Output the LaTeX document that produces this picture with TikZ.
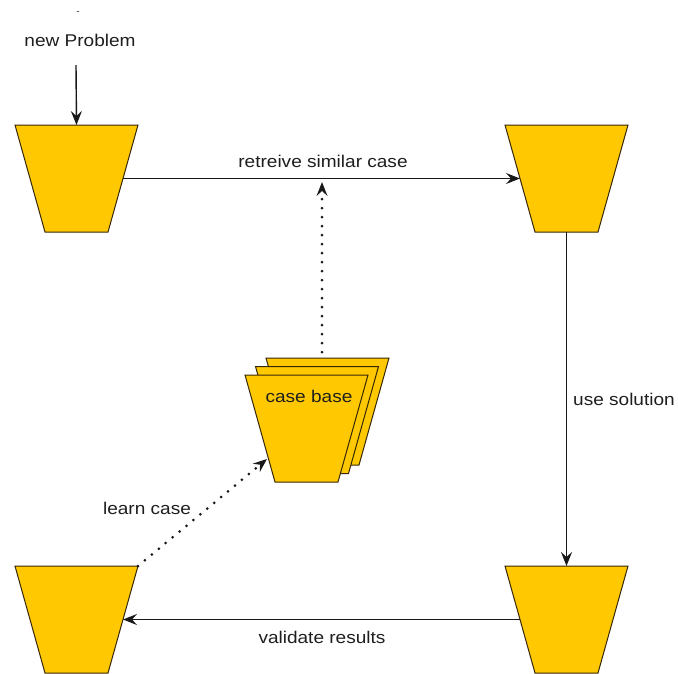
\documentclass[tikz,border=0pt]{standalone}
\usepackage{fontspec}
\setmainfont{Liberation Sans}[FakeStretch=1.12]
\usetikzlibrary{shapes.geometric,arrows.meta}
\definecolor{cbfill}{RGB}{255,200,0}
\definecolor{cbedge}{RGB}{55,40,5}
\definecolor{txt}{RGB}{30,30,30}
\begin{document}
\begin{tikzpicture}[x=1pt,y=-1pt,
  stage/.style={trapezium, trapezium angle=74.34, shape border rotate=180,
    inner xsep=31.5pt, inner ysep=53.5pt, minimum size=0pt,
    fill=cbfill, draw=cbedge, line width=1pt, outer sep=0pt},
  lbl/.style={text=txt, font=\fontsize{17}{20}\selectfont, inner sep=1pt},
  flow/.style={draw=black!90, line width=1.4pt,
    -{Stealth[length=14pt,width=11pt,inset=5pt]}},
  dotflow/.style={draw=black!90, line width=3pt, line cap=round,
    dash pattern=on 0pt off 9pt,
    -{Stealth[length=14pt,width=11pt,inset=5pt,line width=0pt]}}]
\useasboundingbox (0,0) rectangle (678,673);

% the four process stages
\node[stage] (TL) at (76.5,178.5) {};
\node[stage] (TR) at (566.5,178.5) {};
\node[stage] (BL) at (76.5,619.5) {};
\node[stage] (BR) at (566.5,619.5) {};

% stacked case base
\node[stage] (cb3) at (327.5,411.5) {};
\node[stage] (cb2) at (317,420) {};
\node[stage] (cb) at (306.5,428.5) {};
\node[lbl] (cbl) at (309,396) {case base};

% labels
\node[lbl, font=\fontsize{9}{10}\selectfont] (dash) at (78,13) {-};
\node[lbl] (np) at (80,40) {new Problem};
\node[lbl] (rsc) at (323,161) {retreive similar case};
\node[lbl] (us) at (624,399) {use solution};
\node[lbl] (vr) at (322,637) {validate results};
\node[lbl] (lc) at (147,508) {learn case};

% connectors
\coordinate (npin) at (76,65);
\draw[flow] (npin) -- (TL.north);
\draw[flow] (TL.east) -- (TR.west);
\draw[flow] (TR.south) -- (BR.north);
\draw[flow] (BR.west) -- (BL.east);

\coordinate (cbtop) at (322,352);
\coordinate (rsctip) at (322,182);
\draw[dotflow] (cbtop) -- (rsctip);
\coordinate (bltop) at (138,566);
\coordinate (cbside) at (267,459);
\draw[dotflow] (bltop) -- (cbside);
\end{tikzpicture}
\end{document}
